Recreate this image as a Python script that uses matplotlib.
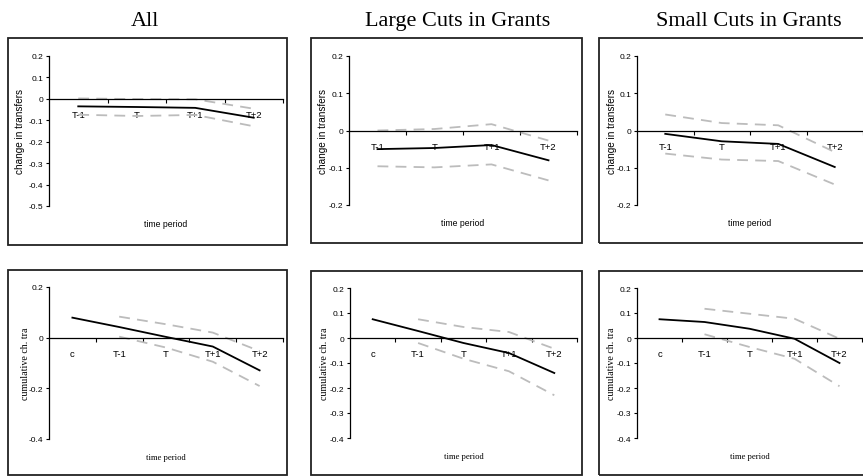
import matplotlib
matplotlib.use('Agg')
import matplotlib.pyplot as plt
from matplotlib.patches import Rectangle
import numpy as np

W, H = 863, 477

titles = ['All', 'Large Cuts in Grants', 'Small Cuts in Grants']
periods = ['T-1', 'T', 'T+1', 'T+2']
cum_periods = ['c', 'T-1', 'T', 'T+1', 'T+2']

# change in transfers (estimate, upper band, lower band)
all_est = [-0.035, -0.038, -0.042, -0.088]
all_hi = [0.002, -0.001, -0.002, -0.046]
all_lo = [-0.074, -0.080, -0.075, -0.128]

large_est = [-0.050, -0.047, -0.039, -0.080]
large_hi = [0.000, 0.004, 0.017, -0.027]
large_lo = [-0.096, -0.099, -0.091, -0.134]

small_est = [-0.009, -0.029, -0.036, -0.098]
small_hi = [0.043, 0.020, 0.014, -0.058]
small_lo = [-0.062, -0.078, -0.082, -0.145]

# cumulative change in transfers (bands start at T-1)
cum_all_est = [0.079, 0.042, 0.003, -0.035, -0.129]
cum_all_hi = [0.083, 0.053, 0.020, -0.053]
cum_all_lo = [0.004, -0.039, -0.095, -0.191]

cum_large_est = [0.075, 0.028, -0.020, -0.060, -0.140]
cum_large_hi = [0.075, 0.044, 0.024, -0.043]
cum_large_lo = [-0.020, -0.083, -0.133, -0.229]

cum_small_est = [0.075, 0.064, 0.037, -0.003, -0.100]
cum_small_hi = [0.117, 0.097, 0.077, -0.003]
cum_small_lo = [0.015, -0.036, -0.083, -0.193]

SANS = 'Liberation Sans'
SERIF = 'Liberation Serif'
GREY = '#bcbcbc'

fig = plt.figure(figsize=(W / 100, H / 100), dpi=100)


def px_rect(x0, y0, x1, y1):
    return [x0 / W, 1 - y1 / H, (x1 - x0) / W, (y1 - y0) / H]


def panel(box, area, cats, est, hi, lo, yticks, ylabel, lab_font, lab_x, band_start):
    b = px_rect(*box)
    fig.add_artist(Rectangle((b[0], b[1]), b[2], b[3], transform=fig.transFigure,
                             fill=False, lw=1.3, ec='#222222'))
    ax = fig.add_axes(px_rect(*area))
    n = len(cats)
    ax.set_xlim(0, n)
    ax.set_ylim(yticks[0], yticks[-1])
    ax.patch.set_alpha(0)
    for s in ['top', 'right']:
        ax.spines[s].set_visible(False)
    ax.spines['bottom'].set_position(('data', 0))
    ax.spines['bottom'].set_linewidth(0.9)
    ax.spines['left'].set_linewidth(0.9)

    xc = np.arange(n) + 0.5
    xb = xc[band_start:]
    ax.plot(xb, hi, color=GREY, lw=1.3, dashes=(6, 4))
    ax.plot(xb, lo, color=GREY, lw=1.3, dashes=(6, 4))
    ax.plot(xc, est, color='black', lw=1.3)

    ax.set_xticks(xc)
    ax.set_xticklabels(cats, fontsize=6.8, family=SANS)
    ax.set_xticks(np.arange(1, n + 1), minor=True)
    ax.tick_params(axis='x', which='major', length=0, pad=8)
    ax.tick_params(axis='x', which='minor', length=3, width=0.8, direction='out')

    ax.set_yticks(yticks)
    ax.set_yticklabels(['0' if abs(v) < 1e-9 else f'{v:.1f}' for v in yticks],
                       fontsize=6, family=SANS)
    ax.tick_params(axis='y', length=2.5, width=0.8, pad=1.5)

    fig.text(lab_x / W, 1 - (area[1] + area[3]) / 2 / H, ylabel, rotation=90,
             ha='center', va='center', fontsize=7.2, family=lab_font)
    tp_y = area[3] + 18
    fig.text((area[0] + area[2]) / 2 / W, 1 - tp_y / H, 'time period',
             ha='center', va='center', fontsize=6.2, family=lab_font)
    return ax


top_ticks_all = [-0.5, -0.4, -0.3, -0.2, -0.1, 0, 0.1, 0.2]
top_ticks = [-0.2, -0.1, 0, 0.1, 0.2]
cum_ticks_all = [-0.4, -0.2, 0, 0.2]
cum_ticks = [-0.4, -0.3, -0.2, -0.1, 0, 0.1, 0.2]

panel((8, 39, 287, 246), (49, 57, 283, 207), periods, all_est, all_hi, all_lo,
      top_ticks_all, 'change in transfers', SANS, 20, 0)
panel((311, 39, 582, 244), (349, 57, 577, 206), periods, large_est, large_hi, large_lo,
      top_ticks, 'change in transfers', SANS, 323.5, 0)
panel((599, 39, 880, 244), (637, 57, 863, 206), periods, small_est, small_hi, small_lo,
      top_ticks, 'change in transfers', SANS, 612, 0)

panel((8, 271, 287, 476), (49, 288, 283, 440), cum_periods, cum_all_est, cum_all_hi,
      cum_all_lo, cum_ticks_all, 'cumulative ch. tra', SERIF, 26, 1)
panel((311, 272, 582, 476), (350, 289, 577, 439), cum_periods, cum_large_est, cum_large_hi,
      cum_large_lo, cum_ticks, 'cumulative ch. tra', SERIF, 324, 1)
panel((599, 272, 880, 476), (637, 289, 862, 439), cum_periods, cum_small_est, cum_small_hi,
      cum_small_lo, cum_ticks, 'cumulative ch. tra', SERIF, 612, 1)

title_x = [145, 457.5, 749]
for t, x in zip(titles, title_x):
    fig.text(x / W, 1 - 26 / H, t, ha='center', va='baseline', fontsize=16, family=SERIF)

fig.savefig('out.png', dpi=100)
